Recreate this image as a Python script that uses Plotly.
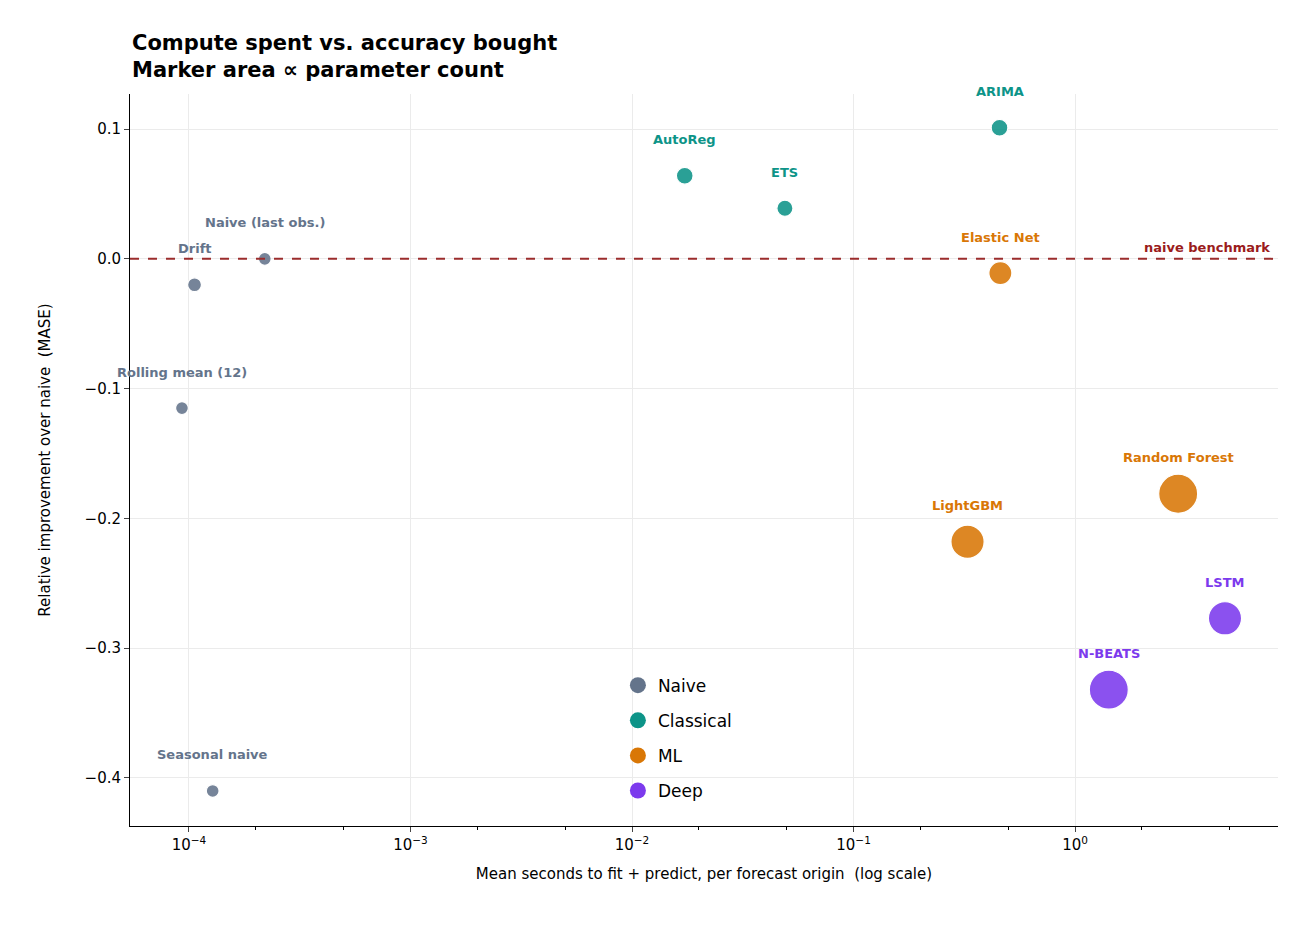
import plotly.graph_objects as go
import numpy as np

models = ["Naive (last obs.)", "Drift", "Rolling mean (12)", "Seasonal naive",
          "AutoReg", "ETS", "ARIMA",
          "Elastic Net", "LightGBM", "Random Forest",
          "LSTM", "N-BEATS"]
families = ["Naive", "Naive", "Naive", "Naive",
            "Classical", "Classical", "Classical",
            "ML", "ML", "ML",
            "Deep", "Deep"]
seconds = [2.2e-4, 1.06e-4, 9.3e-5, 1.28e-4,
           0.0173, 0.049, 0.456,
           0.46, 0.327, 2.92,
           4.75, 1.42]
improvement = [0.0, -0.02, -0.115, -0.41,
               0.064, 0.039, 0.101,
               -0.011, -0.218, -0.181,
               -0.277, -0.332]
params = [1, 2, 1, 1, 8, 6, 8, 100, 5000, 46000, 5000, 46000]

family_order = ["Naive", "Classical", "ML", "Deep"]
colors = {"Naive": "#64748b", "Classical": "#0d9488", "ML": "#d97706", "Deep": "#7c3aed"}

fig = go.Figure()
for fam in family_order:
    idx = [i for i, f in enumerate(families) if f == fam]
    fig.add_trace(go.Scatter(
        x=[seconds[i] for i in idx], y=[improvement[i] for i in idx],
        mode="markers", name=fam, showlegend=False,
        marker=dict(color=colors[fam], opacity=0.88,
                    size=[11 + 6 * np.log10(1 + params[i]) for i in idx],
                    line=dict(color="white", width=1.2)),
    ))
for fam in family_order:
    fig.add_trace(go.Scatter(
        x=[None], y=[None], mode="markers", name=fam, legendgroup=fam,
        marker=dict(color=colors[fam], size=20),
    ))

for i, m in enumerate(models):
    fig.add_annotation(x=np.log10(seconds[i]), y=improvement[i], text=f"<b>{m}</b>",
                       showarrow=False, yshift=36,
                       font=dict(size=13, color=colors[families[i]]))

fig.add_shape(type="line", xref="paper", x0=0, x1=1, y0=0, y1=0,
              line=dict(color="#9b2c2c", width=2, dash="dash"))
fig.add_annotation(xref="paper", x=0.995, y=0, text="<b>naive benchmark</b>",
                   showarrow=False, xanchor="right", yanchor="bottom", yshift=2,
                   font=dict(size=13, color="#9b1c1c"))
fig.add_annotation(xref="paper", yref="paper", x=0, y=1, xanchor="left", yanchor="bottom",
                   yshift=10, align="left", showarrow=False,
                   text="<b>Compute spent vs. accuracy bought<br>Marker area ∝ parameter count</b>",
                   font=dict(size=21, color="black"))

tickvals_x = [1e-4, 1e-3, 1e-2, 1e-1, 1]
ticktext_x = ["10<sup>−4</sup>", "10<sup>−3</sup>", "10<sup>−2</sup>", "10<sup>−1</sup>", "10<sup>0</sup>"]
tickvals_y = [0.1, 0.0, -0.1, -0.2, -0.3, -0.4]
ticktext_y = ["0.1", "0.0", "−0.1", "−0.2", "−0.3", "−0.4"]

fig.update_layout(
    width=1289, height=918, plot_bgcolor="white", paper_bgcolor="white",
    font=dict(family="DejaVu Sans", color="black", size=15),
    margin=dict(l=122, r=19, t=86, b=100),
    legend=dict(x=0.425, y=0.12, xanchor="left", yanchor="middle", itemsizing="trace",
                font=dict(size=17), bgcolor="rgba(255,255,255,0)", tracegroupgap=10),
    xaxis=dict(type="log", range=[-4.266, 0.916], tickvals=tickvals_x, ticktext=ticktext_x,
               showline=True, linecolor="black", ticks="outside", ticklen=5,
               showgrid=True, gridcolor="#ebebeb", zeroline=False,
               tickfont=dict(size=15),
               minor=dict(ticks="outside", ticklen=3, tickcolor="black", showgrid=False),
               title=dict(text="Mean seconds to fit + predict, per forecast origin  (log scale)",
                          font=dict(size=15))),
    yaxis=dict(range=[-0.437, 0.127], tickvals=tickvals_y, ticktext=ticktext_y,
               showline=True, linecolor="black", ticks="outside", ticklen=5,
               showgrid=True, gridcolor="#ebebeb", zeroline=False,
               tickfont=dict(size=15),
               title=dict(text="Relative improvement over naive  (MASE)", font=dict(size=15),
                          standoff=30)),
)
fig.write_html("out.html")
